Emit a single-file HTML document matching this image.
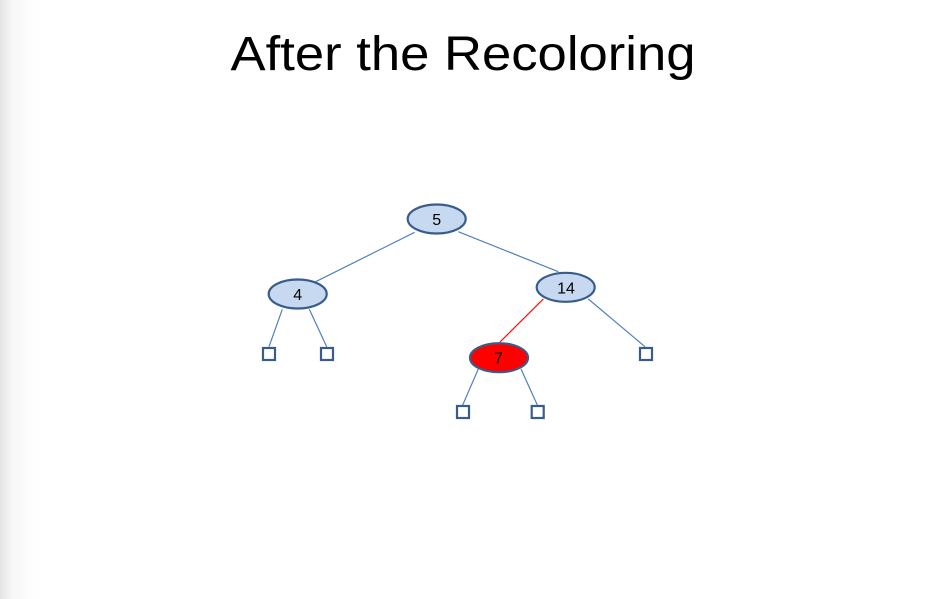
<!DOCTYPE html>
<html><head><style>
html,body{margin:0;padding:0;width:927px;height:599px;overflow:hidden;background:#fff}
.bg{position:absolute;left:0;top:0;width:927px;height:599px;background:linear-gradient(to right,#e4e4e4 0px,#f6f6f6 12px,#fdfdfd 30px,#fff 45px)}
</style></head><body>
<div class="bg"></div>
<svg width="927" height="599" style="position:absolute;left:0;top:0" font-family="Liberation Sans, sans-serif">
<text x="463" y="70" font-size="48" text-anchor="middle" textLength="465" lengthAdjust="spacingAndGlyphs" fill="#000">After the Recoloring</text>
<g stroke="#4f81bd" stroke-width="1.2" fill="none">
<line x1="414.7" y1="232.3" x2="315.7" y2="281.7"/>
<line x1="458.3" y1="231.7" x2="558.3" y2="271.7"/>
<line x1="588.3" y1="299" x2="645" y2="346.7"/>
<line x1="282.3" y1="309.3" x2="269" y2="346.7"/>
<line x1="309.3" y1="309.3" x2="326.7" y2="346.7"/>
<line x1="478.3" y1="369" x2="462.7" y2="405"/>
<line x1="521" y1="369" x2="537.3" y2="405"/>
</g>
<line x1="543.3" y1="299" x2="500" y2="342" stroke="#ff0000" stroke-width="1.2"/>
<g stroke="#385d8a" stroke-width="2.2">
<ellipse cx="436.7" cy="219" rx="29" ry="14.5" fill="#c6d9f1"/>
<ellipse cx="297.7" cy="294" rx="29" ry="14.5" fill="#c6d9f1"/>
<ellipse cx="565.7" cy="287.3" rx="29" ry="14.5" fill="#c6d9f1"/>
<ellipse cx="499" cy="357.7" rx="29" ry="14.5" fill="#ff0000"/>
</g>
<g stroke="#385d8a" stroke-width="2.2" fill="#fff">
<rect x="263" y="348" width="12" height="12"/>
<rect x="321" y="348" width="12" height="12"/>
<rect x="640" y="348" width="12" height="12"/>
<rect x="457" y="406" width="12" height="12"/>
<rect x="531.7" y="406" width="12" height="12"/>
</g>
<g font-size="16" text-anchor="middle" fill="#000">
<text x="436.7" y="225">5</text>
<text x="297.7" y="300">4</text>
<text x="566" y="293.3">14</text>
<text x="498.5" y="363.7">7</text>
</g>
</svg>
</body></html>
